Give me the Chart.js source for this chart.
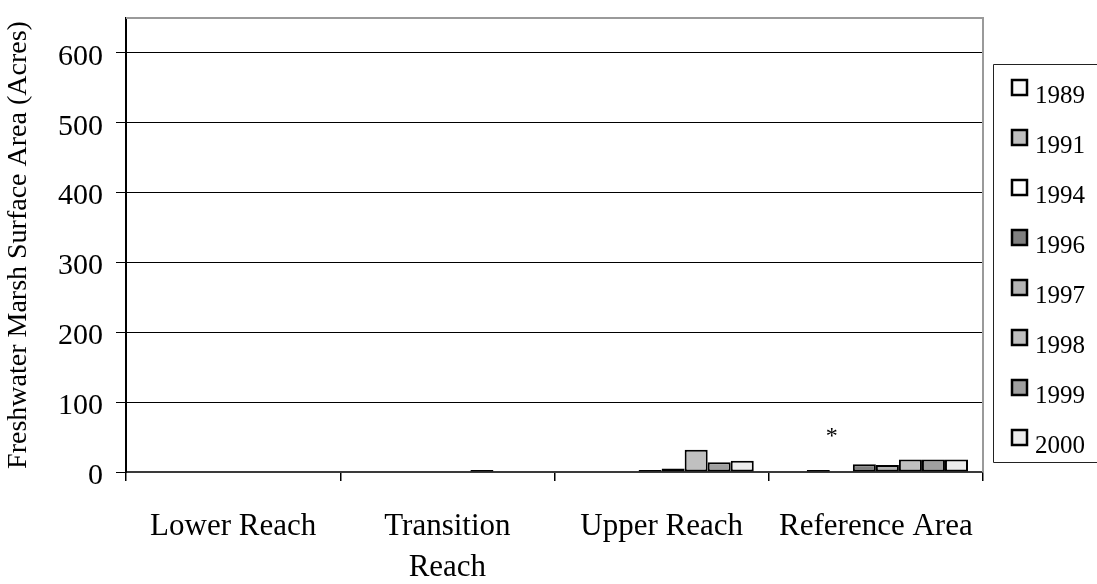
<!DOCTYPE html>
<html>
<head>
<meta charset="utf-8">
<script src="https://cdn.jsdelivr.net/npm/chart.js@4/dist/chart.umd.min.js"></script>
<style>
  html, body { margin: 0; padding: 0; background: #fff; }
  #wrap { width: 1097px; height: 584px; position: relative; }
</style>
</head>
<body>
<div id="wrap"><canvas id="chart" width="1097" height="584"></canvas></div>
<script>
// Study reaches along the x axis
const categories = ['Lower Reach', ['Transition', 'Reach'], 'Upper Reach', 'Reference Area'];

// Survey years (one series each)
const years = ['1989', '1991', '1994', '1996', '1997', '1998', '1999', '2000'];

// Freshwater marsh surface area (acres) per reach, one array per survey year
const acres1989 = [0, 0, 0, 0];
const acres1991 = [0, 0, 0, 3];
const acres1994 = [0, 0, 0, null];
const acres1996 = [0, 0, 3, 11];
const acres1997 = [0, 0, 5, 10];
const acres1998 = [0, 3, 32, 18];
const acres1999 = [0, 0, 14, 18];
const acres2000 = [0, 0, 16, 18];

// Y axis tick values that carry a label
const yTickLabels = [0, 100, 200, 300, 400, 500, 600];
const yMax = 650;

const seriesValues = [acres1989, acres1991, acres1994, acres1996, acres1997, acres1998, acres1999, acres2000];
const seriesColors = ['#fafafa', '#c0c0c0', '#ffffff', '#808080', '#b4b4b4', '#c0c0c0', '#a0a0a0', '#ececec'];

const SERIF = '"Liberation Serif", "Times New Roman", serif';

// Gray frame on the top and right of the plot area
const frameLines = {
  id: 'frameLines',
  beforeDatasetsDraw(chart) {
    const { ctx, chartArea: a } = chart;
    ctx.save();
    ctx.strokeStyle = '#9a9a9a';
    ctx.lineWidth = 2;
    ctx.beginPath();
    ctx.moveTo(a.left, a.top);
    ctx.lineTo(a.right, a.top);
    ctx.lineTo(a.right, a.bottom);
    ctx.stroke();
    ctx.restore();
  }
};

// Boxed legend to the right of the plot
const boxedLegend = {
  id: 'boxedLegend',
  afterDraw(chart) {
    const { ctx, chartArea: a } = chart;
    const left = a.right + 10;
    const top = 64;
    const bottom = 462;
    ctx.save();
    ctx.strokeStyle = '#222';
    ctx.lineWidth = 1;
    ctx.beginPath();
    ctx.moveTo(chart.width + 5, top + 0.5);
    ctx.lineTo(left + 0.5, top + 0.5);
    ctx.lineTo(left + 0.5, bottom + 0.5);
    ctx.lineTo(chart.width + 5, bottom + 0.5);
    ctx.stroke();
    ctx.font = '25px ' + SERIF;
    ctx.textBaseline = 'alphabetic';
    ctx.textAlign = 'left';
    chart.data.datasets.forEach((ds, i) => {
      const base = 103 + 50 * i;
      const sx = left + 19, sy = base - 23, s = 15;
      ctx.fillStyle = ds.backgroundColor;
      ctx.fillRect(sx, sy, s, s);
      ctx.strokeStyle = '#000';
      ctx.lineWidth = 2.5;
      ctx.strokeRect(sx, sy, s, s);
      ctx.fillStyle = '#000';
      ctx.fillText(ds.label, left + 42, base);
    });
    ctx.restore();
  }
};

// Asterisk note over the Reference Area 1994 survey (no data)
const missingNote = {
  id: 'missingNote',
  afterDatasetsDraw(chart) {
    const { ctx } = chart;
    const bar = chart.getDatasetMeta(2).data[3];
    const y0 = chart.scales.y.getPixelForValue(0);
    ctx.save();
    ctx.font = '24px ' + SERIF;
    ctx.fillStyle = '#000';
    ctx.textAlign = 'center';
    ctx.textBaseline = 'alphabetic';
    ctx.fillText('*', bar.x - bar.width / 2 + 2, y0 - 29);
    ctx.restore();
  }
};

new Chart(document.getElementById('chart'), {
  type: 'bar',
  data: {
    labels: categories,
    datasets: years.map((yr, i) => ({
      label: yr,
      data: seriesValues[i],
      backgroundColor: seriesColors[i],
      borderColor: '#000',
      borderWidth: 2,
      borderSkipped: false,
      categoryPercentage: 0.86,
      barPercentage: 1.0
    }))
  },
  options: {
    responsive: false,
    animation: false,
    layout: { padding: { left: 0, top: 18, right: 114, bottom: 0 } },
    plugins: {
      legend: { display: false },
      tooltip: { enabled: false }
    },
    scales: {
      x: {
        afterFit(scale) { scale.height = 112; },
        grid: {
          offset: true,
          drawOnChartArea: false,
          drawTicks: true,
          tickLength: 9,
          color: '#000',
          lineWidth: 1.5
        },
        border: { display: true, color: '#3a3a3a', width: 2 },
        ticks: {
          color: '#000',
          font: { family: SERIF, size: 31, lineHeight: 1.32 },
          padding: 25,
          maxRotation: 0,
          autoSkip: false
        }
      },
      y: {
        min: 0,
        max: yMax,
        afterFit(scale) {
          scale.width = 126;
          scale.paddingTop = 0;
          scale.paddingBottom = 0;
        },
        afterBuildTicks(scale) {
          scale.ticks = yTickLabels.map(v => ({ value: v })).concat([{ value: yMax }]);
        },
        grid: {
          color: ctx => (ctx.tick && ctx.tick.value === yMax) ? 'rgba(0,0,0,0)' : '#000',
          lineWidth: 1,
          drawTicks: true,
          tickLength: 10
        },
        border: { display: true, color: '#000', width: 2 },
        ticks: {
          color: '#000',
          font: { family: SERIF, size: 30 },
          padding: 13,
          labelOffset: 4,
          callback: v => (yTickLabels.includes(v) ? String(v) : '')
        },
        title: {
          display: true,
          text: 'Freshwater Marsh Surface Area (Acres)',
          color: '#000',
          font: { family: SERIF, size: 28 },
          padding: { top: 2, bottom: 0 }
        }
      }
    }
  },
  plugins: [frameLines, missingNote, boxedLegend]
});
</script>
</body>
</html>
